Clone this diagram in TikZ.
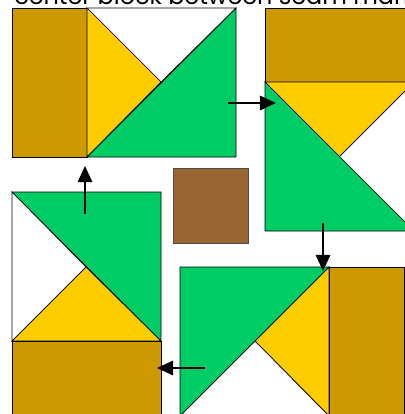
\documentclass[tikz,border=0pt]{standalone}
\usepackage{fontspec}
\setmainfont{Poppins}
\usetikzlibrary{arrows.meta, positioning}
\definecolor{gold}{HTML}{CC9900}
\definecolor{sun}{HTML}{FFCC00}
\definecolor{leaf}{HTML}{00CC66}
\definecolor{bark}{HTML}{996633}

\begin{document}
\begin{tikzpicture}[x=0.025cm, y=-0.025cm,
patch/.style={draw=black, line width=0.5pt},
move/.style={-{Triangle[length=0.4cm, width=0.36cm]}, line width=1.3pt}]
\useasboundingbox (0,0) rectangle (404,414);

\node[anchor=base west, inner sep=0, font=\fontsize{17}{17}\selectfont] (title) at (14,4.5) {center block between seam marks};

% top left block
\filldraw[patch, fill=gold] (12,8) rectangle (87,157);
\filldraw[patch, fill=white] (87,8) -- (236,8) -- (161,82) -- cycle;
\filldraw[patch, fill=sun] (87,8) -- (161,82) -- (87,157) -- cycle;
\filldraw[patch, fill=leaf] (87,157) -- (236,8) -- (236,157) -- cycle;

% top right block
\filldraw[patch, fill=gold] (265,8) rectangle (414,82);
\filldraw[patch, fill=sun] (265,82) -- (414,82) -- (339,157) -- cycle;
\filldraw[patch, fill=white] (414,82) -- (339,157) -- (414,231) -- cycle;
\filldraw[patch, fill=leaf] (265,82) -- (414,231) -- (265,231) -- cycle;

% bottom right block
\filldraw[patch, fill=gold] (329,267) rectangle (404,416);
\filldraw[patch, fill=leaf] (180,267) -- (329,267) -- (180,416) -- cycle;
\filldraw[patch, fill=sun] (329,267) -- (329,416) -- (255,341) -- cycle;
\filldraw[patch, fill=white] (180,416) -- (255,341) -- (329,416) -- cycle;

% bottom left block
\filldraw[patch, fill=leaf] (12,192) -- (161,192) -- (161,341) -- cycle;
\filldraw[patch, fill=white] (12,192) -- (86,267) -- (12,341) -- cycle;
\filldraw[patch, fill=sun] (12,341) -- (86,267) -- (161,341) -- cycle;
\filldraw[patch, fill=gold] (12,341) rectangle (161,416);

% center block
\filldraw[patch, draw=black!70, fill=bark] (173,168) rectangle (248,243);

% turns
\coordinate (r1) at (228,103);
\coordinate (r2) at (276,103);
\coordinate (d1) at (323,223);
\coordinate (d2) at (323,271);
\coordinate (l1) at (205,368);
\coordinate (l2) at (157,368);
\coordinate (u1) at (85,214);
\coordinate (u2) at (85,166);
\draw[move] (r1) -- (r2);
\draw[move] (d1) -- (d2);
\draw[move] (l1) -- (l2);
\draw[move] (u1) -- (u2);
\end{tikzpicture}
\end{document}
